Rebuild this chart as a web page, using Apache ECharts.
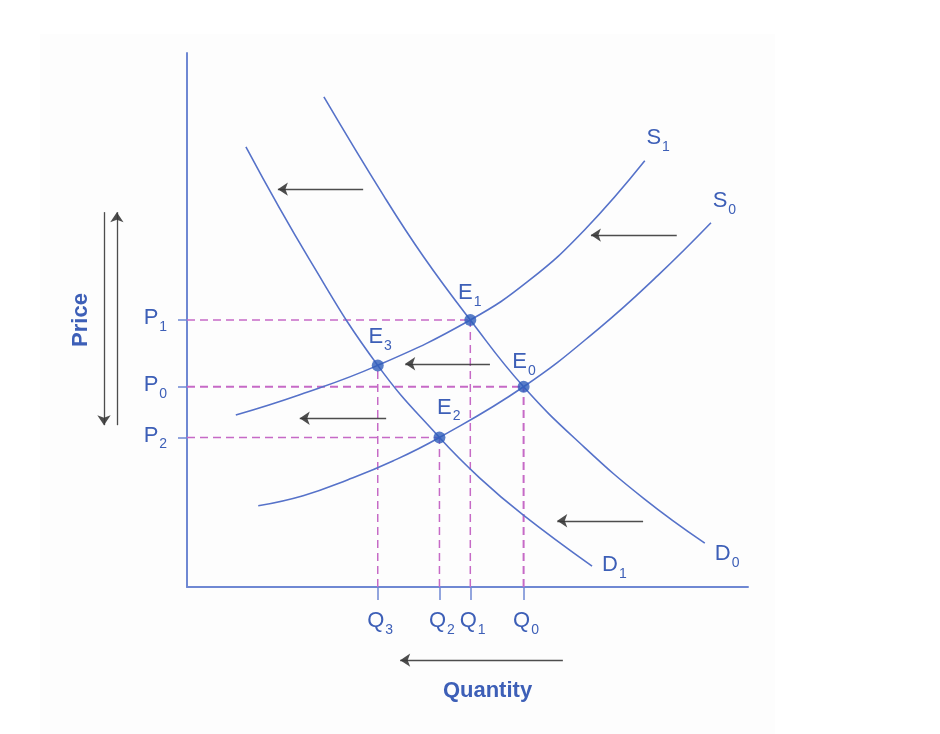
<!DOCTYPE html>
<html><head><meta charset="utf-8">
<script src="https://cdn.jsdelivr.net/npm/echarts@6/dist/echarts.min.js"></script>
<style>html,body{margin:0;padding:0;background:#fff}#c{width:940px;height:734px}</style>
</head><body><div id="c"></div>
<script>
// ---------- data (economic units: quantity 0..10, price 0..10) ----------
const quantityLabels = ['Q3', 'Q2', 'Q1', 'Q0'];
const quantityValues = [3.4, 4.5, 5.05, 6.0];
const priceLabels = ['P2', 'P0', 'P1'];
const priceValues = [2.8, 3.75, 5.0];
const equilibriumNames = ['E0', 'E1', 'E2', 'E3'];
const equilibriumQ = [6.0, 5.05, 4.5, 3.4];
const equilibriumP = [3.75, 5.0, 2.8, 4.15];
const curveNames = ['S1', 'S0', 'D0', 'D1'];
const supplyS1 = [[0.87,3.22],[2.01,3.60],[3.4,4.15],[5.05,5.0],[6.11,5.75],[7.09,6.69],[8.16,7.98]];
const supplyS0 = [[1.27,1.52],[2.07,1.71],[2.87,2.01],[3.67,2.36],[4.5,2.8],[6.0,3.75],[7.33,4.83],[8.40,5.84],[9.34,6.82]];
const demandD0 = [[2.44,9.18],[3.51,7.32],[4.22,6.18],[5.05,5.0],[6.0,3.75],[7.08,2.62],[8.15,1.65],[9.23,0.82]];
const demandD1 = [[1.05,8.24],[2.19,6.12],[3.4,4.15],[4.5,2.8],[5.22,2.04],[5.99,1.35],[7.22,0.39]];
const shiftArrows = [
  [[3.14,7.45],[1.62,7.45]],
  [[8.73,6.59],[7.20,6.59]],
  [[5.40,4.18],[3.89,4.18]],
  [[3.55,3.16],[2.01,3.16]],
  [[8.13,1.24],[6.60,1.24]]
];
const quantityArrow = [[6.70,-1.37],[3.80,-1.37]];
const priceArrows = [[[-1.48,7.02],[-1.48,3.03]], [[-1.25,3.03],[-1.25,7.02]]];

// ---------- styles ----------
const TEXT = '#3d5fb7';
const CURVE = '#5672c9';
const AXIS = '#6f88d3';
const DASH = '#c66ac6';
const FONT = '"Liberation Sans", Arial, Helvetica, sans-serif';
const eLabelOffset = {E0:[-4,-25], E1:[-5,-27], E2:[5,-30], E3:[-2,-28]};
const curveLabelOffset = {S1:[9,-23], S0:[9,-22], D0:[18,11], D1:[18,-1]};

const chart = echarts.init(document.getElementById('c'), null, {renderer:'canvas'});

function curveSeries(name, pts) {
  return {type:'line', name, data:pts, smooth:0.45, showSymbol:false, symbol:'none',
    lineStyle:{color:CURVE, width:1.6}, z:3, silent:true, animation:false};
}
function dashSeries(pts, width) {
  return {type:'line', data:pts, showSymbol:false, symbol:'none', silent:true, animation:false,
    lineStyle:{color:DASH, width:width, type:[8,5]}, z:2};
}
const series = [];
priceValues.forEach(p => {
  const i = equilibriumP.indexOf(p);
  series.push(dashSeries([[0,p],[equilibriumQ[i],p]], p === 3.75 ? 1.8 : 1.5));
});
quantityValues.forEach(q => {
  const i = equilibriumQ.indexOf(q);
  series.push(dashSeries([[q,0],[q,equilibriumP[i]]], q === 6.0 ? 2 : 1.5));
});
const curves = {S1:supplyS1, S0:supplyS0, D0:demandD0, D1:demandD1};
curveNames.forEach(n => series.push(curveSeries(n, curves[n])));
series.push({type:'scatter', data:equilibriumQ.map((q,i)=>[q,equilibriumP[i]]), symbolSize:12,
  itemStyle:{color:'#2e5cba'}, z:5, silent:true, animation:false});
series.push({type:'lines', coordinateSystem:'cartesian2d', clip:false, silent:true, animation:false,
  data:[...shiftArrows, quantityArrow, ...priceArrows].map(c => ({coords:c})),
  symbol:['none','arrow'], symbolSize:10,
  lineStyle:{color:'#3a3a3a', width:1.3, opacity:0.9, curveness:0}, z:4});

chart.setOption({
  animation:false,
  grid:{left:187, right:192, top:53, bottom:147, containLabel:false},
  xAxis:{type:'value', min:0, max:10,
    axisLine:{show:true, onZero:false, lineStyle:{color:AXIS, width:2}},
    axisTick:{show:true, customValues:quantityValues, length:13, lineStyle:{color:AXIS, width:1.5}},
    axisLabel:{show:false}, splitLine:{show:false},
    name:'Quantity', nameLocation:'middle', nameGap:93,
    nameTextStyle:{color:TEXT, fontSize:22, fontWeight:'bold', fontFamily:FONT, padding:[0,0,0,40]}},
  yAxis:{type:'value', min:0, max:10,
    axisLine:{show:true, onZero:false, lineStyle:{color:AXIS, width:2}},
    axisTick:{show:true, customValues:priceValues, length:9, lineStyle:{color:AXIS, width:1.5}},
    axisLabel:{show:false}, splitLine:{show:false},
    name:'Price', nameLocation:'middle', nameGap:95, nameRotate:90,
    nameTextStyle:{color:TEXT, fontSize:22, fontWeight:'bold', fontFamily:FONT}},
  series
});

// ---------- labels ----------
const cv = document.createElement('canvas').getContext('2d');
function measure(t, size) { cv.font = size + 'px ' + FONT; return cv.measureText(t).width; }
const g = [{type:'rect', shape:{x:40, y:34, width:735, height:700}, style:{fill:'#fdfdfd'}, z:-100, silent:true}];
function addLabel(text, cx, cy) {
  const main = text[0], sub = text.slice(1);
  const w = measure(main, 22);
  g.push({type:'text', x:cx, y:cy, z:10, silent:true,
    style:{text:main, fontSize:22, fontFamily:FONT, fill:TEXT, align:'center', verticalAlign:'middle'}});
  g.push({type:'text', x:cx + w/2 + 1, y:cy + 9, z:10, silent:true,
    style:{text:sub, fontSize:14, fontFamily:FONT, fill:TEXT, align:'left', verticalAlign:'middle'}});
}
const px = p => chart.convertToPixel({gridIndex:0}, p);
const origin = px([0,0]);
priceValues.forEach((p,i) => { const y = px([0,p])[1]; addLabel(priceLabels[i], origin[0]-36, y-2); });
quantityValues.forEach((q,i) => { const x = px([q,0])[0]; addLabel(quantityLabels[i], x-2, origin[1]+34); });
equilibriumNames.forEach((n,i) => {
  const [x,y] = px([equilibriumQ[i], equilibriumP[i]]); const o = eLabelOffset[n];
  addLabel(n, x+o[0], y+o[1]);
});
curveNames.forEach(n => {
  const pts = curves[n]; const [x,y] = px(pts[pts.length-1]); const o = curveLabelOffset[n];
  addLabel(n, x+o[0], y+o[1]);
});
chart.setOption({graphic:g});
</script>
</body></html>
